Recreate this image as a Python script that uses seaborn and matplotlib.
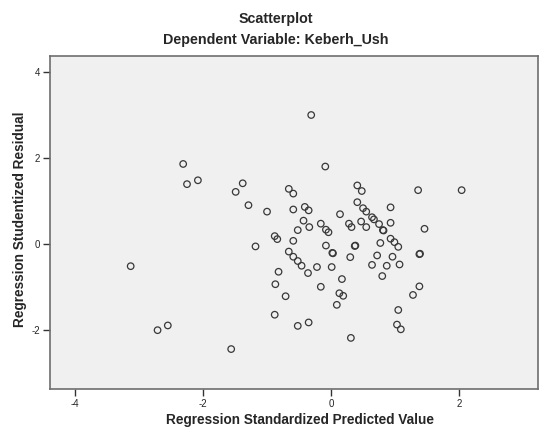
import numpy as np
import pandas as pd
import matplotlib
matplotlib.use("Agg")
import matplotlib.pyplot as plt
import seaborn as sns

pred = [-3.13, -2.71, -2.55, -2.31, -2.25, -2.08, -1.56, -1.49, -1.38, -1.29,
        -1.18, -1.00, -0.88, -0.84, -0.82, -0.87, -0.88, -0.71, -0.66, -0.59,
        -0.59, -0.41, -0.35, -0.31, -0.09, -0.43, -0.16, -0.52, -0.34, -0.08,
        -0.04, -0.59, -0.08, -0.66, -0.59, -0.52, -0.46, -0.36, -0.22, 0.01,
        0.02, 0.03, -0.16, -0.52, -0.35, 0.13, 0.19, 0.09, 0.17, 0.31,
        0.14, 0.41, 0.48, 0.41, 0.50, 0.55, 0.64, 0.67, 0.28, 0.47,
        0.75, 0.93, 0.93, 0.32, 0.55, 0.81, 0.82, 0.37, 0.38, 0.30,
        0.77, 0.93, 0.99, 1.05, 0.72, 0.64, 0.87, 0.96, 1.07, 0.80,
        1.38, 1.39, 1.38, 1.28, 1.05, 1.03, 1.09, 1.36, 2.04, 1.46]
resid = [-0.51, -2.00, -1.89, 1.87, 1.40, 1.49, -2.44, 1.22, 1.42, 0.91,
         -0.05, 0.76, 0.19, 0.12, -0.64, -0.93, -1.64, -1.21, 1.29, 1.18,
         0.81, 0.87, 0.79, 3.01, 1.81, 0.55, 0.48, 0.33, 0.40, 0.34,
         0.28, 0.08, -0.03, -0.17, -0.29, -0.39, -0.50, -0.67, -0.53, -0.53,
         -0.20, -0.21, -0.99, -1.90, -1.82, -1.14, -1.20, -1.41, -0.81, -2.18,
         0.70, 1.37, 1.24, 0.98, 0.84, 0.76, 0.63, 0.58, 0.48, 0.53,
         0.47, 0.86, 0.50, 0.40, 0.40, 0.33, 0.32, -0.04, -0.03, -0.30,
         0.03, 0.13, 0.05, -0.06, -0.26, -0.48, -0.50, -0.29, -0.47, -0.74,
         -0.23, -0.22, -0.98, -1.18, -1.53, -1.87, -1.98, 1.26, 1.26, 0.36]

df = pd.DataFrame({"pred": pred, "resid": resid})

sns.set_style("white")
plt.rcParams["font.family"] = ["Liberation Sans", "DejaVu Sans"]
plt.rcParams["axes.unicode_minus"] = False

fig = plt.figure(figsize=(5.39, 4.32), dpi=100)
ax = fig.add_axes([0.0928, 0.0995, 0.905, 0.7705])
ax.set_facecolor("#f0f0f0")

sns.scatterplot(data=df, x="pred", y="resid", ax=ax, marker="o", s=22,
                facecolor="none", edgecolor="#383838", linewidth=0.9)

ax.set_xlim(-4.39, 3.23)
ax.set_ylim(-3.37, 4.38)
ax.set_xticks([-4, -2, 0, 2])
ax.set_yticks([-2, 0, 2, 4])
ax.tick_params(direction="out", length=5, width=1, color="#333333",
               labelsize=7, pad=2, bottom=True, left=True)
for s in ax.spines.values():
    s.set_color("#6e6e6e")
    s.set_linewidth(1.2)

ax.set_xlabel("Regression Standardized Predicted Value", fontsize=9.8,
              fontweight="bold")
ax.set_ylabel("Regression Studentized Residual", fontsize=9.8,
              fontweight="bold")
ax.xaxis.set_label_coords(0.512, -0.072)
ax.yaxis.set_label_coords(-0.047, 0.51)

fig.text(0.512, 0.957, "Scatterplot", ha="center", va="center",
         fontsize=10.3, fontweight="bold")
fig.text(0.512, 0.907, "Dependent Variable: Keberh_Ush", ha="center",
         va="center", fontsize=10.3, fontweight="bold")

fig.savefig("out.png", dpi=100)
